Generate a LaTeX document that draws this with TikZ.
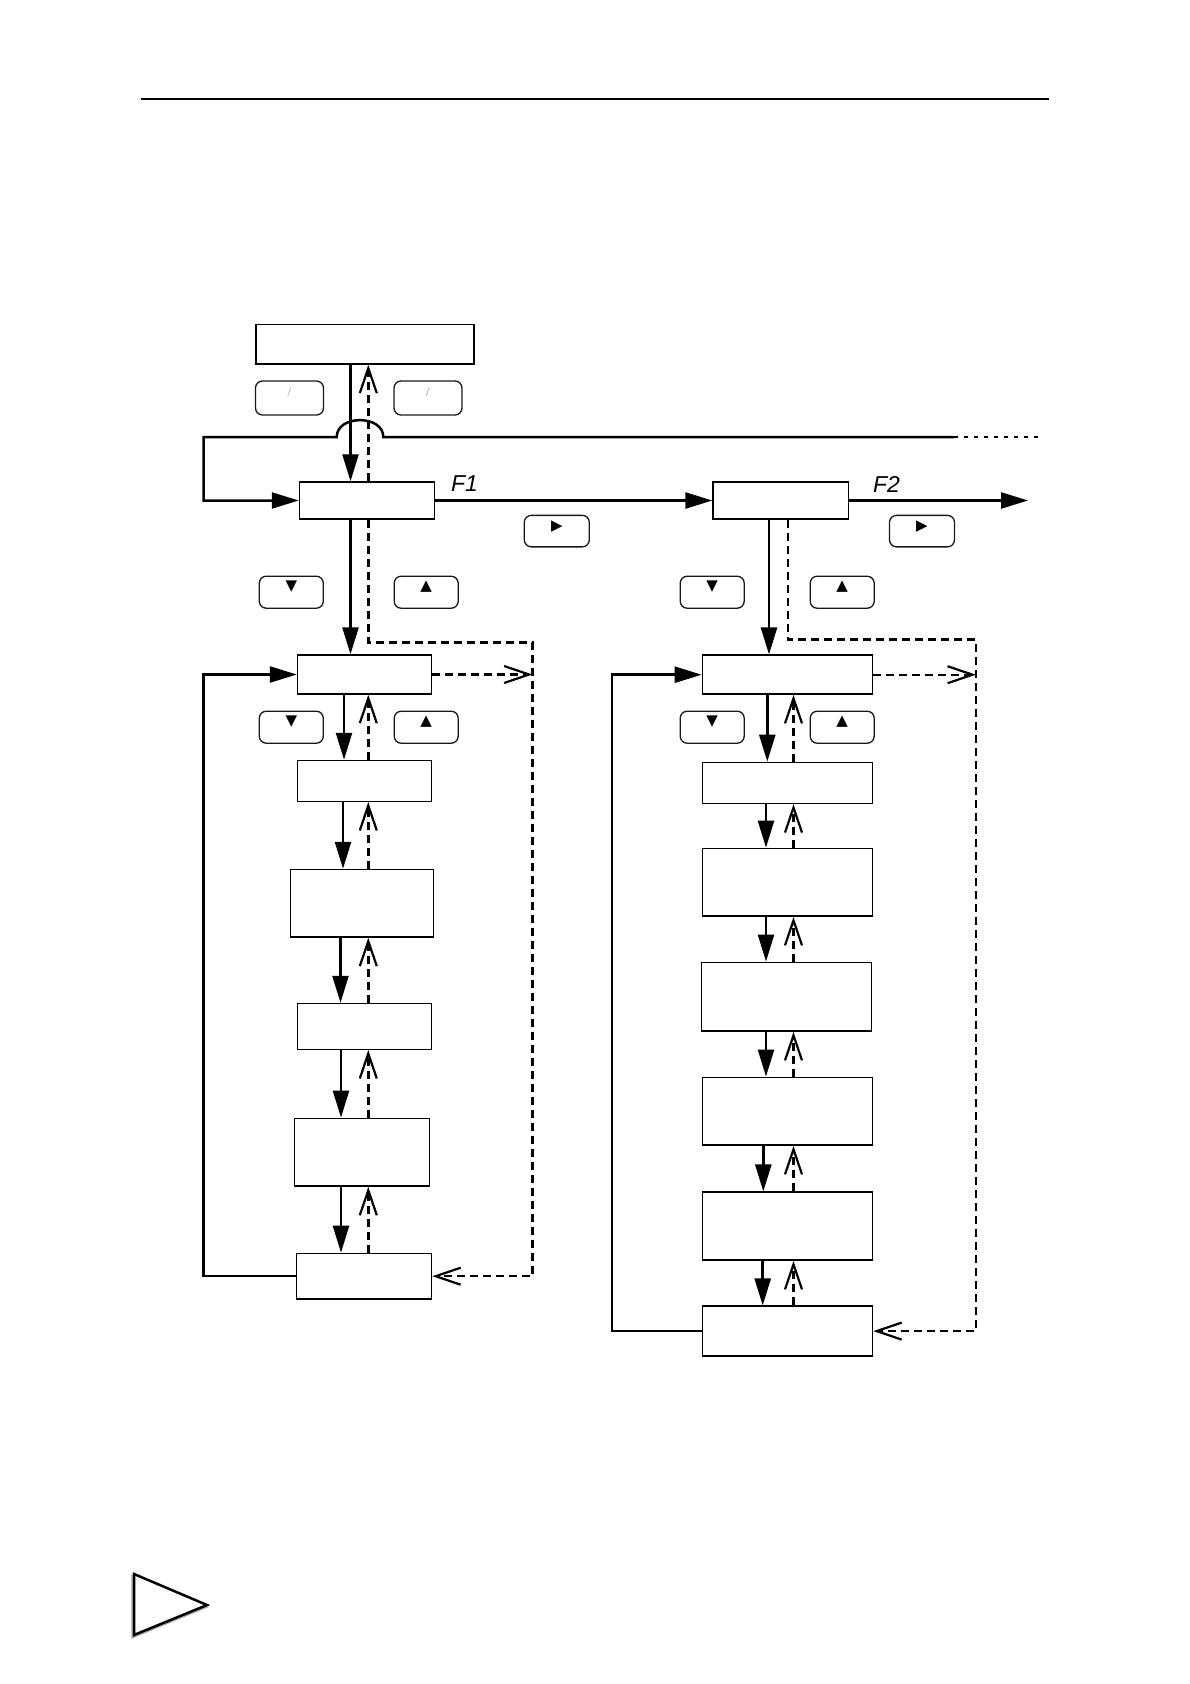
\documentclass[tikz,border=0pt]{standalone}
\usepackage{fontspec}
\newfontfamily\segfont{Liberation Sans}
\newfontfamily\symfont{DejaVu Sans}
\usetikzlibrary{arrows.meta}
\tikzset{
  bx/.style={draw, line width=1.5pt, inner sep=0pt, fill=white},
  btn/.style={draw=black!90, line width=1.3pt, rounded corners=7pt, minimum width=65pt, minimum height=32pt, inner sep=0pt},
  keyg/.style={font=\symfont\fontsize{15}{15}\selectfont, inner sep=0pt},
  slashg/.style={font=\fontsize{9}{9}\selectfont, text=black!60, inner sep=0pt},
  seg/.style={font=\segfont\itshape\fontsize{23}{23}\selectfont, inner sep=0pt},
  sl/.style={line width=2.5pt},
  dl/.style={line width=2.4pt, dash pattern=on 8pt off 5pt},
  dotl/.style={line width=2pt, dash pattern=on 3.5pt off 6.5pt},
  tri/.tip={Triangle[length=27pt,width=16pt]},
  barb/.tip={Straight Barb[length=25pt,width=17pt,line width=2.2pt]}
}
\begin{document}
\begin{tikzpicture}[x=1pt,y=-1pt]
\useasboundingbox (0,0) rectangle (1190,1684);
\fill[white] (0,0) rectangle (1190,1684);

% page rule
\draw[line width=2.5pt] (140.7,98.8) -- (1049.3,98.8);

% boxes
\node[bx, minimum width=218pt, minimum height=39.5pt] (top) at (364.8,344.2) {};
\node[bx, minimum width=135pt, minimum height=37pt] (F1) at (367,500.5) {};
\node[bx, minimum width=135.5pt, minimum height=37pt] (F2) at (780.8,500.5) {};

\node[bx, minimum width=134.2pt, minimum height=39pt] (A1) at (364.6,674.5) {};
\node[bx, minimum width=134.2pt, minimum height=40.8pt] (A2) at (364.6,780.9) {};
\node[bx, minimum width=143.2pt, minimum height=67.5pt] (A3) at (361.9,903.25) {};
\node[bx, minimum width=134.2pt, minimum height=45.8pt] (A4) at (364.6,1026.4) {};
\node[bx, minimum width=135.4pt, minimum height=67.7pt] (A5) at (362,1152.2) {};
\node[bx, minimum width=135.1pt, minimum height=45.6pt] (A6) at (363.95,1276.2) {};

\node[bx, minimum width=170.2pt, minimum height=39pt] (B1) at (787.5,674.7) {};
\node[bx, minimum width=170.1pt, minimum height=41pt] (B2) at (787.45,782.9) {};
\node[bx, minimum width=170.1pt, minimum height=67.8pt] (B3) at (787.45,882.3) {};
\node[bx, minimum width=170.2pt, minimum height=68.9pt] (B4) at (786.6,996.75) {};
\node[bx, minimum width=170.1pt, minimum height=67.9pt] (B5) at (787.45,1111.25) {};
\node[bx, minimum width=170.1pt, minimum height=68pt] (B6) at (787.45,1226.2) {};
\node[bx, minimum width=170.1pt, minimum height=49.8pt] (B7) at (787.45,1331.1) {};

% buttons
\node[btn, minimum width=68pt, minimum height=34pt] (T1) at (289.5,398) {};
\node[btn, minimum width=68pt, minimum height=34pt] (T2) at (428,398) {};
\node[slashg] at ([yshift=5.5pt]T1.center) {/};
\node[slashg] at ([yshift=5.5pt]T2.center) {/};

\node[btn, minimum height=31.5pt] (R1) at (556.8,531.1) {};
\node[btn, minimum height=31.5pt] (R2) at (922,531.1) {};
\node[keyg] at ([yshift=5pt]R1.center) {▶};
\node[keyg] at ([yshift=5pt]R2.center) {▶};

\node[btn, minimum width=64pt] (D1) at (291.3,592.2) {};
\node[btn, minimum width=64pt] (U1) at (426.2,592.2) {};
\node[btn, minimum width=64pt] (D2) at (291.3,727.2) {};
\node[btn, minimum width=64pt] (U2) at (426.2,727.2) {};
\node[btn, minimum width=64pt] (D3) at (712.2,592.2) {};
\node[btn, minimum width=64pt] (U3) at (842.2,592.2) {};
\node[btn, minimum width=64pt] (D4) at (712.2,727.2) {};
\node[btn, minimum width=64pt] (U4) at (842.2,727.2) {};
\foreach \k in {D1,D2,D3,D4} \node[keyg] at ([yshift=5.5pt]\k.center) {▼};
\foreach \k in {U1,U2,U3,U4} \node[keyg] at ([yshift=6pt]\k.center) {▲};

% labels
\node[seg] (l1) at (464.5,484) {F1};
\node[seg] (l2) at (886.5,484.5) {F2};

% helper coordinates
\coordinate (sx0) at (350.5,0);
\coordinate (dx1) at (368.3,0);
\coordinate (r1) at (532.5,642.3);
\coordinate (lx1) at (203.7,900);
\coordinate (sx2) at (769,0);
\coordinate (dx2) at (788,0);
\coordinate (dx3) at (793.5,0);
\coordinate (r2) at (976,639.3);
\coordinate (lx2) at (612,900);
\coordinate (topfree) at (954,437);
\coordinate (topdot) at (1039.6,437);
\coordinate (hopR) at (383.3,437);
\coordinate (hopL) at (336.7,437);
\coordinate (tl) at (203.7,437);
\coordinate (f2out) at (1028,500.5);

% top loop line with hop
\draw[dotl] (topfree) -- (topdot);
\draw[sl,-{tri}] (topfree) -- (hopR) .. controls (383.3,414.5) and (336.7,414.5) .. (hopL) -- (tl) |- (F1.west);

% top <-> F1
\draw[sl,-{tri}] (sx0 |- top.south) -- (sx0 |- F1.north);
\draw[dl,-{barb}] (dx1 |- F1.north) -- (dx1 |- top.south);

% F1 -> F2 -> out
\draw[sl,-{tri}] (F1.east) -- (F2.west);
\draw[sl,-{tri}] (F2.east) -- (f2out);

% column 1
\draw[sl,-{tri}] (sx0 |- F1.south) -- (sx0 |- A1.north);
\draw[dl,-{barb}] (dx1 |- F1.south) |- (r1) |- (A6.east);
\draw[dl,-{barb}] (A1.east) -- (A1.east -| r1);
\draw[sl,-{tri}] (A6.west) -| (lx1) |- (A1.west);

\foreach \u/\v/\xs in {A1/A2/344,A2/A3/343,A3/A4/340.5,A4/A5/341,A5/A6/341}{
  \draw[sl,-{tri}] (\xs,0 |- \u.south) -- (\xs,0 |- \v.north);
  \draw[dl,-{barb}] (dx1 |- \v.north) -- (dx1 |- \u.south);
}

% column 2
\draw[sl,-{tri}] (sx2 |- F2.south) -- (sx2 |- B1.north);
\draw[dl,-{barb}] (dx2 |- F2.south) |- (r2) |- (B7.east);
\draw[dl,-{barb}] (B1.east) -- (B1.east -| r2);
\draw[sl,-{tri}] (B7.west) -| (lx2) |- (B1.west);

\foreach \u/\v/\xs in {B1/B2/767.3,B2/B3/766,B3/B4/766,B4/B5/766,B5/B6/763.3,B6/B7/762.7}{
  \draw[sl,-{tri}] (\xs,0 |- \u.south) -- (\xs,0 |- \v.north);
  \draw[dl,-{barb}] (dx3 |- \v.north) -- (dx3 |- \u.south);
}

% page marker triangle
\draw[line width=2.5pt, black!35, line join=miter] (132.5,1576) -- (132.5,1637) -- (205.5,1607) -- cycle;
\draw[line width=2.5pt, fill=white, line join=miter] (134,1574) -- (134,1635) -- (207,1605) -- cycle;
\end{tikzpicture}
\end{document}
